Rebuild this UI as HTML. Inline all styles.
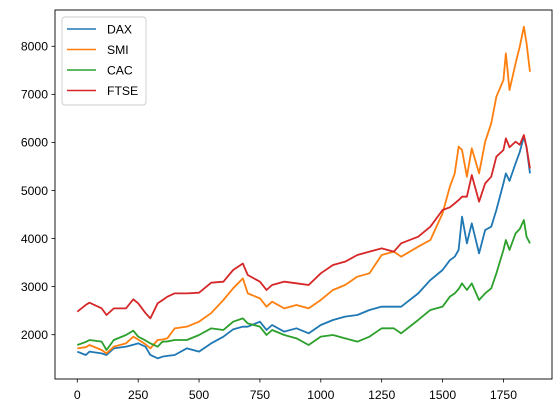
<!DOCTYPE html>
<html><head><meta charset="utf-8"><style>
html,body{margin:0;padding:0;background:#fff;}
svg{display:block;font-family:"Liberation Sans","DejaVu Sans",sans-serif;}
</style></head><body>
<svg id="chart" width="560" height="413" viewBox="0 0 560 413" xmlns="http://www.w3.org/2000/svg">
<rect x="55" y="10" width="497" height="369" fill="#fff"/>
<g id="series"></g>
<rect x="55" y="10" width="497" height="369" fill="none" stroke="#000" stroke-width="0.9"/>
<g id="xticks"></g>
<g id="yticks"></g>
<g>
<rect x="62" y="17" width="84" height="88" rx="3" fill="#fff" fill-opacity="0.8" stroke="#ccc" stroke-width="0.9"/>
<g id="legend-entries"></g>
</g>
</svg>
<script>
const days = [0,35,50,100,120,150,200,230,250,280,300,330,350,370,400,450,500,550,600,640,680,700,750,777,800,850,900,950,1000,1050,1100,1150,1200,1250,1300,1330,1400,1450,1500,1530,1550,1566,1580,1600,1620,1650,1675,1700,1721,1750,1760,1775,1800,1817,1834,1845,1859];
const dax = [1647,1578,1647,1612,1578,1716,1751,1790,1820,1751,1578,1508,1543,1560,1578,1716,1647,1820,1959,2112,2167,2167,2271,2098,2202,2063,2133,2028,2202,2306,2375,2410,2514,2583,2583,2583,2860,3137,3346,3550,3623,3762,4455,3900,4316,3692,4178,4247,4594,5148,5356,5200,5564,5800,6119,5900,5356];
const smi = [1716,1740,1786,1682,1612,1751,1820,1959,1900,1800,1716,1890,1900,1925,2132,2167,2271,2450,2722,2965,3172,2860,2756,2583,2687,2548,2618,2548,2722,2930,3034,3207,3277,3658,3727,3623,3831,3970,4524,5079,5356,5911,5842,5287,5877,5356,6015,6396,6951,7298,7852,7090,7645,7991,8407,8060,7471];
const cac = [1786,1850,1890,1855,1682,1890,1994,2084,1960,1880,1820,1751,1855,1860,1890,1890,1994,2132,2098,2271,2340,2236,2167,1994,2098,1994,1924,1786,1959,1994,1924,1855,1959,2133,2133,2028,2306,2514,2583,2791,2860,2950,3068,2930,3068,2721,2860,2964,3276,3762,3970,3762,4108,4200,4385,4039,3900];
const ftse = [2479,2620,2666,2548,2410,2548,2548,2736,2653,2450,2340,2653,2720,2791,2860,2860,2874,3082,3103,3346,3480,3242,3103,2930,3034,3103,3069,3034,3277,3450,3519,3658,3727,3797,3727,3901,4039,4247,4594,4650,4732,4800,4871,4871,5322,4767,5148,5287,5703,5842,6084,5900,6015,5950,6154,5900,5460];
const seriesNames = ["DAX","SMI","CAC","FTSE"];
const xTickLabels = ["0","250","500","750","1000","1250","1500","1750"];
const xTickValues = [0,250,500,750,1000,1250,1500,1750];
const yTickLabels = ["2000","3000","4000","5000","6000","7000","8000"];
const yTickValues = [2000,3000,4000,5000,6000,7000,8000];

const NS = "http://www.w3.org/2000/svg";
const colors = ["#1f77b4","#ff7f0e","#2ca02c","#d62728"];
function xs(d){ return 77.3 + 0.2435 * d; }
function ys(v){ return 334.7 - 0.04807 * (v - 2000); }
function mk(tag, attrs, parent){ const e=document.createElementNS(NS,tag); for(const k in attrs) e.setAttribute(k,attrs[k]); parent.appendChild(e); return e; }

const allSeries = [dax, smi, cac, ftse];
const sg = document.getElementById("series");
allSeries.forEach((vals, si) => {
  const pts = vals.map((v,i)=> xs(days[i]).toFixed(2)+","+ys(v).toFixed(2)).join(" ");
  const pl = mk("polyline",{points:pts, fill:"none", stroke:colors[si], "stroke-width":"1.8", "stroke-linejoin":"round"}, sg);
  
  
});

const xg = document.getElementById("xticks");
xTickValues.forEach((t,i)=>{
  const x = xs(t);
  const tk = mk("line",{x1:x,x2:x,y1:379,y2:382.5,stroke:"#000","stroke-width":"0.8"}, xg);
  
  
  const tx = mk("text",{x:x,y:399,"text-anchor":"middle","font-size":"12.2",fill:"#000"}, xg);
  tx.textContent = xTickLabels[i];
  
  
});
const yg = document.getElementById("yticks");
yTickValues.forEach((t,i)=>{
  const y = ys(t);
  const tk = mk("line",{x1:51.5,x2:55,y1:y,y2:y,stroke:"#000","stroke-width":"0.8"}, yg);
  
  
  const tx = mk("text",{x:48,y:y+4.3,"text-anchor":"end","font-size":"12.2",fill:"#000"}, yg);
  tx.textContent = yTickLabels[i];
  
  
});

const lg = document.getElementById("legend-entries");
seriesNames.forEach((n,i)=>{
  const y = 29 + i*20.5;
  const g = mk("g",{}, lg);
  
  
  mk("line",{x1:67,x2:96,y1:y,y2:y,stroke:colors[i],"stroke-width":"1.5"}, g);
  const tx = mk("text",{x:107,y:y+4.4,"font-size":"12.2",fill:"#000"}, g);
  tx.textContent = n;
});
</script>
</body></html>
